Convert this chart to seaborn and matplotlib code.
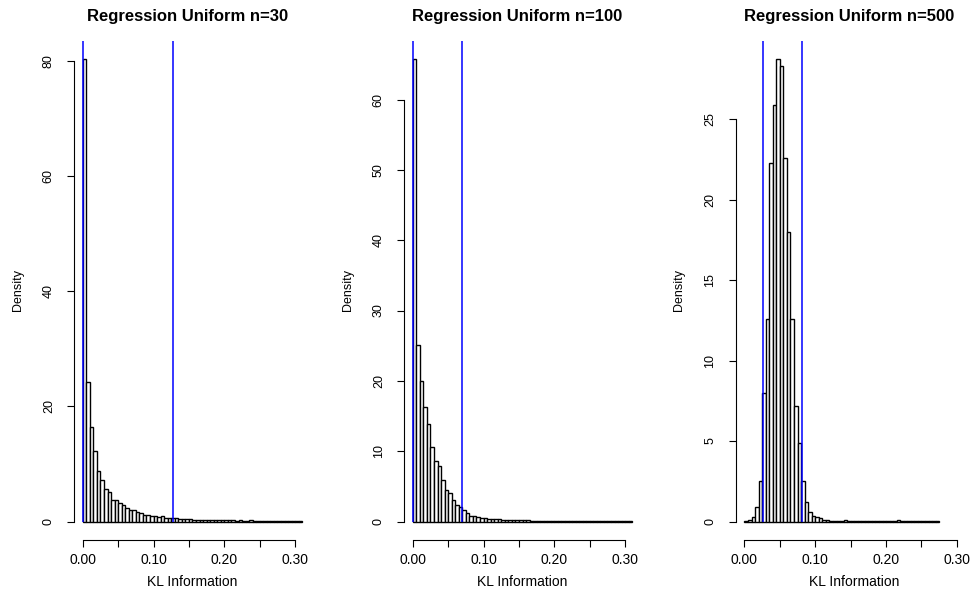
import numpy as np
import pandas as pd
import matplotlib
matplotlib.use("Agg")
import matplotlib.pyplot as plt
import seaborn as sns

# ---------------- data (density per bin, bin width 0.005 starting at 0) ----------------
bin_width = 0.005
titles = ["Regression Uniform n=30", "Regression Uniform n=100", "Regression Uniform n=500"]

kl_n30 = [80.2, 24.3, 16.4, 12.2, 8.7, 7.2, 5.7, 5.2, 3.8, 3.8, 3.2, 2.8, 2.4, 2.0, 2.0,
          1.6, 1.5, 1.2, 1.1, 1.0, 0.9, 0.8, 0.9, 0.6, 0.6, 0.6,
          0.55, 0.5, 0.5, 0.45, 0.4, 0.35, 0.35, 0.3, 0.3, 0.3, 0.25, 0.25, 0.3, 0.25,
          0.2, 0.2, 0.25, 0.15, 0.2, 0.15, 0.15, 0.2, 0.1, 0.1, 0.1, 0.1, 0.15, 0.1,
          0.1, 0.05, 0.1, 0.05, 0.05, 0.1, 0.05, 0.05]
kl_n100 = [65.7, 25.1, 20.0, 16.3, 13.8, 10.6, 8.6, 7.9, 5.9, 4.5, 4.0, 3.1, 2.3, 2.1,
           1.6, 1.2, 0.85, 0.8, 0.7, 0.55, 0.5, 0.4,
           0.35, 0.3, 0.3, 0.25, 0.25, 0.2, 0.2, 0.2, 0.15, 0.15,
           0.15, 0.12, 0.1, 0.12, 0.1, 0.08, 0.08, 0.06, 0.06, 0.05,
           0.05, 0.05, 0.04, 0.04, 0.05, 0.03, 0.03, 0.03, 0.04, 0.03,
           0.03, 0.02, 0.02, 0.03, 0.02, 0.02, 0.02, 0.02, 0.02, 0.02]
kl_n500 = [0.02, 0.1, 0.3, 0.9, 2.5, 8.0, 12.6, 22.3, 25.9, 28.7, 28.3, 22.6, 18.0, 12.6,
           7.2, 4.9, 2.5, 1.2, 0.6, 0.35, 0.25, 0.2, 0.12, 0.1, 0.06, 0.05, 0.04, 0.04,
           0.12, 0.03, 0.03, 0.02, 0.02, 0.02, 0.02, 0.02, 0.02, 0.02, 0.02, 0.02, 0.02,
           0.02, 0.02, 0.08, 0.02, 0.02, 0.02, 0.02, 0.02, 0.02, 0.02, 0.02, 0.02, 0.02, 0.02]
densities = [kl_n30, kl_n100, kl_n500]

quantiles = [[0.0005, 0.1276], [0.0005, 0.070], [0.0264, 0.0815]]
y_tick_step = [20, 10, 5]
x_ticks = [0.00, 0.05, 0.10, 0.15, 0.20, 0.25, 0.30]
x_tick_labels = ["0.00", "", "0.10", "", "0.20", "", "0.30"]

# ---------------- style ----------------
sns.set_style("ticks")
plt.rcParams["font.family"] = ["Liberation Sans", "DejaVu Sans"]
plt.rcParams["axes.linewidth"] = 0.8
for key in ["text.color", "axes.labelcolor", "xtick.color", "ytick.color", "axes.edgecolor"]:
    plt.rcParams[key] = "black"
narrow = ["Liberation Sans Narrow", "Liberation Sans", "DejaVu Sans"]

W, H = 971, 592
fig = plt.figure(figsize=(W / 100, H / 100), dpi=100)

lefts = [74, 404, 735.7]
region_w, region_top, region_bottom = 237, 41, 540

for i in range(3):
    heights = np.array(densities[i], dtype=float)
    n_bins = len(heights)
    edges = [k * bin_width for k in range(n_bins + 1)]
    df = pd.DataFrame({"kl": [(k + 0.5) * bin_width for k in range(n_bins)],
                       "density": heights})
    ax = fig.add_axes([lefts[i] / W, (H - region_bottom) / H,
                       region_w / W, (region_bottom - region_top) / H])
    sns.histplot(data=df, x="kl", weights="density", bins=edges, stat="count",
                 color="white", edgecolor="black", linewidth=1.0, alpha=1,
                 ax=ax)
    ax.set_xlim(-0.04 * 0.31, 0.31 + 0.04 * 0.31)
    ymax = heights.max()
    ax.set_ylim(-0.04 * ymax, ymax * 1.04)
    ax.vlines(quantiles[i], 0, ymax * 1.04, colors="blue", linewidth=1.1, zorder=5)

    yt = np.arange(0, ymax + 1e-9, y_tick_step[i])
    ax.set_yticks(yt)
    ax.set_yticklabels([f"{int(v)}" for v in yt], rotation=90, va="center",
                       ha="right", family=narrow, fontsize=9)
    ax.set_xticks(x_ticks)
    ax.set_xticklabels(x_tick_labels, fontsize=10)
    ax.tick_params(axis="both", length=5.3, width=0.8, color="black", labelcolor="black")
    ax.tick_params(axis="y", pad=8.5)
    ax.tick_params(axis="x", pad=4)
    sns.despine(ax=ax)
    ax.spines["left"].set_bounds(yt[0], yt[-1])
    ax.spines["bottom"].set_bounds(x_ticks[0], x_ticks[-1])
    ax.set_xlabel("")
    ax.set_ylabel("")
    ax.set_facecolor("none")

    cx = (lefts[i] + region_w / 2) / W
    fig.text(cx - 5 / W, 1 - 16 / H, titles[i], ha="center", va="center",
             fontsize=12, fontweight="bold", color="black")
    fig.text(cx, 1 - 582 / H, "KL Information", ha="center", va="center",
             fontsize=10, color="black")
    fig.text((lefts[i] - 56.5) / W, 1 - 290 / H, "Density", ha="center", va="center",
             rotation=90, family=narrow, fontsize=9, color="black")

fig.savefig("out.png", dpi=100, facecolor="white")
